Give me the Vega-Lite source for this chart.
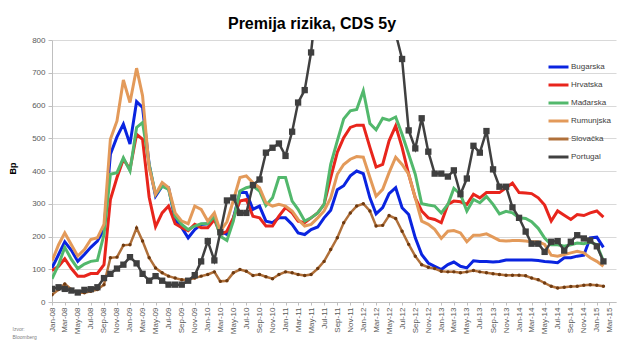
{
  "$schema": "https://vega.github.io/schema/vega-lite/v6.json",
  "width": 564,
  "height": 262,
  "autosize": {"type": "none"},
  "padding": {"left": 52, "top": 40, "right": 9, "bottom": 48},
  "background": "white",
  "config": {
    "font": "Liberation Sans",
    "view": {"stroke": null},
    "axis": {"labelFont": "Liberation Sans", "titleFont": "Liberation Sans"}
  },
  "title": {
    "text": "Premija rizika, CDS 5y",
    "fontSize": 16,
    "font": "Liberation Sans",
    "fontWeight": "bold",
    "color": "#000000",
    "anchor": "middle",
    "dx": -22,
    "offset": 4
  },
  "data": {
    "values": [
      {"m":"2008-01","c":"Bugarska","v":104},{"m":"2008-02","c":"Bugarska","v":145},{"m":"2008-03","c":"Bugarska","v":184},{"m":"2008-04","c":"Bugarska","v":158},{"m":"2008-05","c":"Bugarska","v":124},{"m":"2008-06","c":"Bugarska","v":145},{"m":"2008-07","c":"Bugarska","v":167},{"m":"2008-08","c":"Bugarska","v":186},{"m":"2008-09","c":"Bugarska","v":221},{"m":"2008-10","c":"Bugarska","v":451},{"m":"2008-11","c":"Bugarska","v":504},{"m":"2008-12","c":"Bugarska","v":543},
      {"m":"2009-01","c":"Bugarska","v":482},{"m":"2009-02","c":"Bugarska","v":612},{"m":"2009-03","c":"Bugarska","v":594},{"m":"2009-04","c":"Bugarska","v":420},{"m":"2009-05","c":"Bugarska","v":323},{"m":"2009-06","c":"Bugarska","v":354},{"m":"2009-07","c":"Bugarska","v":349},{"m":"2009-08","c":"Bugarska","v":252},{"m":"2009-09","c":"Bugarska","v":227},{"m":"2009-10","c":"Bugarska","v":196},{"m":"2009-11","c":"Bugarska","v":221},{"m":"2009-12","c":"Bugarska","v":237},
      {"m":"2010-01","c":"Bugarska","v":239},{"m":"2010-02","c":"Bugarska","v":255},{"m":"2010-03","c":"Bugarska","v":216},{"m":"2010-04","c":"Bugarska","v":206},{"m":"2010-05","c":"Bugarska","v":255},{"m":"2010-06","c":"Bugarska","v":334},{"m":"2010-07","c":"Bugarska","v":334},{"m":"2010-08","c":"Bugarska","v":283},{"m":"2010-09","c":"Bugarska","v":293},{"m":"2010-10","c":"Bugarska","v":247},{"m":"2010-11","c":"Bugarska","v":242},{"m":"2010-12","c":"Bugarska","v":257},
      {"m":"2011-01","c":"Bugarska","v":257},{"m":"2011-02","c":"Bugarska","v":237},{"m":"2011-03","c":"Bugarska","v":211},{"m":"2011-04","c":"Bugarska","v":206},{"m":"2011-05","c":"Bugarska","v":221},{"m":"2011-06","c":"Bugarska","v":229},{"m":"2011-07","c":"Bugarska","v":257},{"m":"2011-08","c":"Bugarska","v":280},{"m":"2011-09","c":"Bugarska","v":343},{"m":"2011-10","c":"Bugarska","v":355},{"m":"2011-11","c":"Bugarska","v":385},{"m":"2011-12","c":"Bugarska","v":400},
      {"m":"2012-01","c":"Bugarska","v":392},{"m":"2012-02","c":"Bugarska","v":318},{"m":"2012-03","c":"Bugarska","v":269},{"m":"2012-04","c":"Bugarska","v":288},{"m":"2012-05","c":"Bugarska","v":331},{"m":"2012-06","c":"Bugarska","v":349},{"m":"2012-07","c":"Bugarska","v":288},{"m":"2012-08","c":"Bugarska","v":267},{"m":"2012-09","c":"Bugarska","v":196},{"m":"2012-10","c":"Bugarska","v":145},{"m":"2012-11","c":"Bugarska","v":119},{"m":"2012-12","c":"Bugarska","v":109},
      {"m":"2013-01","c":"Bugarska","v":99},{"m":"2013-02","c":"Bugarska","v":114},{"m":"2013-03","c":"Bugarska","v":122},{"m":"2013-04","c":"Bugarska","v":109},{"m":"2013-05","c":"Bugarska","v":104},{"m":"2013-06","c":"Bugarska","v":126},{"m":"2013-07","c":"Bugarska","v":124},{"m":"2013-08","c":"Bugarska","v":124},{"m":"2013-09","c":"Bugarska","v":122},{"m":"2013-10","c":"Bugarska","v":124},{"m":"2013-11","c":"Bugarska","v":128},{"m":"2013-12","c":"Bugarska","v":128},
      {"m":"2014-01","c":"Bugarska","v":128},{"m":"2014-02","c":"Bugarska","v":128},{"m":"2014-03","c":"Bugarska","v":128},{"m":"2014-04","c":"Bugarska","v":127},{"m":"2014-05","c":"Bugarska","v":124},{"m":"2014-06","c":"Bugarska","v":122},{"m":"2014-07","c":"Bugarska","v":120},{"m":"2014-08","c":"Bugarska","v":135},{"m":"2014-09","c":"Bugarska","v":135},{"m":"2014-10","c":"Bugarska","v":140},{"m":"2014-11","c":"Bugarska","v":143},{"m":"2014-12","c":"Bugarska","v":196},
      {"m":"2015-01","c":"Bugarska","v":198},{"m":"2015-02","c":"Bugarska","v":167},

      {"m":"2008-01","c":"Hrvatska","v":96},{"m":"2008-02","c":"Hrvatska","v":109},{"m":"2008-03","c":"Hrvatska","v":132},{"m":"2008-04","c":"Hrvatska","v":102},{"m":"2008-05","c":"Hrvatska","v":79},{"m":"2008-06","c":"Hrvatska","v":79},{"m":"2008-07","c":"Hrvatska","v":87},{"m":"2008-08","c":"Hrvatska","v":87},{"m":"2008-09","c":"Hrvatska","v":114},{"m":"2008-10","c":"Hrvatska","v":313},{"m":"2008-11","c":"Hrvatska","v":380},{"m":"2008-12","c":"Hrvatska","v":436},
      {"m":"2009-01","c":"Hrvatska","v":405},{"m":"2009-02","c":"Hrvatska","v":512},{"m":"2009-03","c":"Hrvatska","v":497},{"m":"2009-04","c":"Hrvatska","v":320},{"m":"2009-05","c":"Hrvatska","v":230},{"m":"2009-06","c":"Hrvatska","v":272},{"m":"2009-07","c":"Hrvatska","v":293},{"m":"2009-08","c":"Hrvatska","v":239},{"m":"2009-09","c":"Hrvatska","v":227},{"m":"2009-10","c":"Hrvatska","v":218},{"m":"2009-11","c":"Hrvatska","v":237},{"m":"2009-12","c":"Hrvatska","v":227},
      {"m":"2010-01","c":"Hrvatska","v":227},{"m":"2010-02","c":"Hrvatska","v":252},{"m":"2010-03","c":"Hrvatska","v":206},{"m":"2010-04","c":"Hrvatska","v":216},{"m":"2010-05","c":"Hrvatska","v":257},{"m":"2010-06","c":"Hrvatska","v":308},{"m":"2010-07","c":"Hrvatska","v":313},{"m":"2010-08","c":"Hrvatska","v":262},{"m":"2010-09","c":"Hrvatska","v":257},{"m":"2010-10","c":"Hrvatska","v":232},{"m":"2010-11","c":"Hrvatska","v":232},{"m":"2010-12","c":"Hrvatska","v":262},
      {"m":"2011-01","c":"Hrvatska","v":288},{"m":"2011-02","c":"Hrvatska","v":272},{"m":"2011-03","c":"Hrvatska","v":247},{"m":"2011-04","c":"Hrvatska","v":242},{"m":"2011-05","c":"Hrvatska","v":257},{"m":"2011-06","c":"Hrvatska","v":272},{"m":"2011-07","c":"Hrvatska","v":298},{"m":"2011-08","c":"Hrvatska","v":380},{"m":"2011-09","c":"Hrvatska","v":457},{"m":"2011-10","c":"Hrvatska","v":502},{"m":"2011-11","c":"Hrvatska","v":533},{"m":"2011-12","c":"Hrvatska","v":540},
      {"m":"2012-01","c":"Hrvatska","v":540},{"m":"2012-02","c":"Hrvatska","v":472},{"m":"2012-03","c":"Hrvatska","v":412},{"m":"2012-04","c":"Hrvatska","v":420},{"m":"2012-05","c":"Hrvatska","v":492},{"m":"2012-06","c":"Hrvatska","v":538},{"m":"2012-07","c":"Hrvatska","v":472},{"m":"2012-08","c":"Hrvatska","v":390},{"m":"2012-09","c":"Hrvatska","v":318},{"m":"2012-10","c":"Hrvatska","v":278},{"m":"2012-11","c":"Hrvatska","v":257},{"m":"2012-12","c":"Hrvatska","v":252},
      {"m":"2013-01","c":"Hrvatska","v":242},{"m":"2013-02","c":"Hrvatska","v":298},{"m":"2013-03","c":"Hrvatska","v":308},{"m":"2013-04","c":"Hrvatska","v":306},{"m":"2013-05","c":"Hrvatska","v":298},{"m":"2013-06","c":"Hrvatska","v":329},{"m":"2013-07","c":"Hrvatska","v":318},{"m":"2013-08","c":"Hrvatska","v":334},{"m":"2013-09","c":"Hrvatska","v":334},{"m":"2013-10","c":"Hrvatska","v":334},{"m":"2013-11","c":"Hrvatska","v":349},{"m":"2013-12","c":"Hrvatska","v":363},
      {"m":"2014-01","c":"Hrvatska","v":334},{"m":"2014-02","c":"Hrvatska","v":333},{"m":"2014-03","c":"Hrvatska","v":331},{"m":"2014-04","c":"Hrvatska","v":318},{"m":"2014-05","c":"Hrvatska","v":296},{"m":"2014-06","c":"Hrvatska","v":247},{"m":"2014-07","c":"Hrvatska","v":278},{"m":"2014-08","c":"Hrvatska","v":265},{"m":"2014-09","c":"Hrvatska","v":252},{"m":"2014-10","c":"Hrvatska","v":267},{"m":"2014-11","c":"Hrvatska","v":264},{"m":"2014-12","c":"Hrvatska","v":272},
      {"m":"2015-01","c":"Hrvatska","v":278},{"m":"2015-02","c":"Hrvatska","v":259},

      {"m":"2008-01","c":"Mađarska","v":71},{"m":"2008-02","c":"Mađarska","v":114},{"m":"2008-03","c":"Mađarska","v":167},{"m":"2008-04","c":"Mađarska","v":130},{"m":"2008-05","c":"Mađarska","v":102},{"m":"2008-06","c":"Mađarska","v":116},{"m":"2008-07","c":"Mađarska","v":124},{"m":"2008-08","c":"Mađarska","v":127},{"m":"2008-09","c":"Mađarska","v":206},{"m":"2008-10","c":"Mađarska","v":390},{"m":"2008-11","c":"Mađarska","v":395},{"m":"2008-12","c":"Mađarska","v":440},
      {"m":"2009-01","c":"Mađarska","v":400},{"m":"2009-02","c":"Mađarska","v":533},{"m":"2009-03","c":"Mađarska","v":548},{"m":"2009-04","c":"Mađarska","v":420},{"m":"2009-05","c":"Mađarska","v":329},{"m":"2009-06","c":"Mađarska","v":354},{"m":"2009-07","c":"Mađarska","v":344},{"m":"2009-08","c":"Mađarska","v":262},{"m":"2009-09","c":"Mađarska","v":237},{"m":"2009-10","c":"Mađarska","v":221},{"m":"2009-11","c":"Mađarska","v":232},{"m":"2009-12","c":"Mađarska","v":239},
      {"m":"2010-01","c":"Mađarska","v":239},{"m":"2010-02","c":"Mađarska","v":262},{"m":"2010-03","c":"Mađarska","v":201},{"m":"2010-04","c":"Mađarska","v":188},{"m":"2010-05","c":"Mađarska","v":247},{"m":"2010-06","c":"Mađarska","v":339},{"m":"2010-07","c":"Mađarska","v":349},{"m":"2010-08","c":"Mađarska","v":354},{"m":"2010-09","c":"Mađarska","v":339},{"m":"2010-10","c":"Mađarska","v":295},{"m":"2010-11","c":"Mađarska","v":318},{"m":"2010-12","c":"Mađarska","v":380},
      {"m":"2011-01","c":"Mađarska","v":380},{"m":"2011-02","c":"Mađarska","v":308},{"m":"2011-03","c":"Mađarska","v":283},{"m":"2011-04","c":"Mađarska","v":247},{"m":"2011-05","c":"Mađarska","v":257},{"m":"2011-06","c":"Mađarska","v":272},{"m":"2011-07","c":"Mađarska","v":298},{"m":"2011-08","c":"Mađarska","v":420},{"m":"2011-09","c":"Mađarska","v":492},{"m":"2011-10","c":"Mađarska","v":559},{"m":"2011-11","c":"Mađarska","v":584},{"m":"2011-12","c":"Mađarska","v":588},
      {"m":"2012-01","c":"Mađarska","v":645},{"m":"2012-02","c":"Mađarska","v":545},{"m":"2012-03","c":"Mađarska","v":526},{"m":"2012-04","c":"Mađarska","v":561},{"m":"2012-05","c":"Mađarska","v":555},{"m":"2012-06","c":"Mađarska","v":565},{"m":"2012-07","c":"Mađarska","v":512},{"m":"2012-08","c":"Mađarska","v":451},{"m":"2012-09","c":"Mađarska","v":390},{"m":"2012-10","c":"Mađarska","v":300},{"m":"2012-11","c":"Mađarska","v":296},{"m":"2012-12","c":"Mađarska","v":293},
      {"m":"2013-01","c":"Mađarska","v":272},{"m":"2013-02","c":"Mađarska","v":298},{"m":"2013-03","c":"Mađarska","v":347},{"m":"2013-04","c":"Mađarska","v":329},{"m":"2013-05","c":"Mađarska","v":278},{"m":"2013-06","c":"Mađarska","v":313},{"m":"2013-07","c":"Mađarska","v":303},{"m":"2013-08","c":"Mađarska","v":322},{"m":"2013-09","c":"Mađarska","v":298},{"m":"2013-10","c":"Mađarska","v":269},{"m":"2013-11","c":"Mađarska","v":277},{"m":"2013-12","c":"Mađarska","v":272},
      {"m":"2014-01","c":"Mađarska","v":257},{"m":"2014-02","c":"Mađarska","v":255},{"m":"2014-03","c":"Mađarska","v":245},{"m":"2014-04","c":"Mađarska","v":225},{"m":"2014-05","c":"Mađarska","v":195},{"m":"2014-06","c":"Mađarska","v":175},{"m":"2014-07","c":"Mađarska","v":175},{"m":"2014-08","c":"Mađarska","v":170},{"m":"2014-09","c":"Mađarska","v":175},{"m":"2014-10","c":"Mađarska","v":180},{"m":"2014-11","c":"Mađarska","v":178},{"m":"2014-12","c":"Mađarska","v":183},
      {"m":"2015-01","c":"Mađarska","v":175},{"m":"2015-02","c":"Mađarska","v":125},

      {"m":"2008-01","c":"Rumunjska","v":125},{"m":"2008-02","c":"Rumunjska","v":175},{"m":"2008-03","c":"Rumunjska","v":211},{"m":"2008-04","c":"Rumunjska","v":175},{"m":"2008-05","c":"Rumunjska","v":140},{"m":"2008-06","c":"Rumunjska","v":160},{"m":"2008-07","c":"Rumunjska","v":191},{"m":"2008-08","c":"Rumunjska","v":196},{"m":"2008-09","c":"Rumunjska","v":237},{"m":"2008-10","c":"Rumunjska","v":497},{"m":"2008-11","c":"Rumunjska","v":553},{"m":"2008-12","c":"Rumunjska","v":678},
      {"m":"2009-01","c":"Rumunjska","v":609},{"m":"2009-02","c":"Rumunjska","v":714},{"m":"2009-03","c":"Rumunjska","v":630},{"m":"2009-04","c":"Rumunjska","v":410},{"m":"2009-05","c":"Rumunjska","v":329},{"m":"2009-06","c":"Rumunjska","v":365},{"m":"2009-07","c":"Rumunjska","v":349},{"m":"2009-08","c":"Rumunjska","v":272},{"m":"2009-09","c":"Rumunjska","v":247},{"m":"2009-10","c":"Rumunjska","v":239},{"m":"2009-11","c":"Rumunjska","v":293},{"m":"2009-12","c":"Rumunjska","v":283},
      {"m":"2010-01","c":"Rumunjska","v":247},{"m":"2010-02","c":"Rumunjska","v":272},{"m":"2010-03","c":"Rumunjska","v":216},{"m":"2010-04","c":"Rumunjska","v":245},{"m":"2010-05","c":"Rumunjska","v":310},{"m":"2010-06","c":"Rumunjska","v":380},{"m":"2010-07","c":"Rumunjska","v":385},{"m":"2010-08","c":"Rumunjska","v":364},{"m":"2010-09","c":"Rumunjska","v":349},{"m":"2010-10","c":"Rumunjska","v":303},{"m":"2010-11","c":"Rumunjska","v":293},{"m":"2010-12","c":"Rumunjska","v":298},
      {"m":"2011-01","c":"Rumunjska","v":293},{"m":"2011-02","c":"Rumunjska","v":278},{"m":"2011-03","c":"Rumunjska","v":252},{"m":"2011-04","c":"Rumunjska","v":232},{"m":"2011-05","c":"Rumunjska","v":237},{"m":"2011-06","c":"Rumunjska","v":257},{"m":"2011-07","c":"Rumunjska","v":278},{"m":"2011-08","c":"Rumunjska","v":318},{"m":"2011-09","c":"Rumunjska","v":390},{"m":"2011-10","c":"Rumunjska","v":420},{"m":"2011-11","c":"Rumunjska","v":436},{"m":"2011-12","c":"Rumunjska","v":444},
      {"m":"2012-01","c":"Rumunjska","v":442},{"m":"2012-02","c":"Rumunjska","v":380},{"m":"2012-03","c":"Rumunjska","v":323},{"m":"2012-04","c":"Rumunjska","v":344},{"m":"2012-05","c":"Rumunjska","v":395},{"m":"2012-06","c":"Rumunjska","v":442},{"m":"2012-07","c":"Rumunjska","v":420},{"m":"2012-08","c":"Rumunjska","v":390},{"m":"2012-09","c":"Rumunjska","v":318},{"m":"2012-10","c":"Rumunjska","v":247},{"m":"2012-11","c":"Rumunjska","v":237},{"m":"2012-12","c":"Rumunjska","v":222},
      {"m":"2013-01","c":"Rumunjska","v":194},{"m":"2013-02","c":"Rumunjska","v":216},{"m":"2013-03","c":"Rumunjska","v":218},{"m":"2013-04","c":"Rumunjska","v":211},{"m":"2013-05","c":"Rumunjska","v":184},{"m":"2013-06","c":"Rumunjska","v":204},{"m":"2013-07","c":"Rumunjska","v":204},{"m":"2013-08","c":"Rumunjska","v":208},{"m":"2013-09","c":"Rumunjska","v":198},{"m":"2013-10","c":"Rumunjska","v":188},{"m":"2013-11","c":"Rumunjska","v":186},{"m":"2013-12","c":"Rumunjska","v":188},
      {"m":"2014-01","c":"Rumunjska","v":188},{"m":"2014-02","c":"Rumunjska","v":186},{"m":"2014-03","c":"Rumunjska","v":184},{"m":"2014-04","c":"Rumunjska","v":184},{"m":"2014-05","c":"Rumunjska","v":176},{"m":"2014-06","c":"Rumunjska","v":143},{"m":"2014-07","c":"Rumunjska","v":140},{"m":"2014-08","c":"Rumunjska","v":145},{"m":"2014-09","c":"Rumunjska","v":150},{"m":"2014-10","c":"Rumunjska","v":155},{"m":"2014-11","c":"Rumunjska","v":150},{"m":"2014-12","c":"Rumunjska","v":135},
      {"m":"2015-01","c":"Rumunjska","v":124},{"m":"2015-02","c":"Rumunjska","v":109},

      {"m":"2008-01","c":"Slovačka","v":22},{"m":"2008-02","c":"Slovačka","v":38},{"m":"2008-03","c":"Slovačka","v":55},{"m":"2008-04","c":"Slovačka","v":38},{"m":"2008-05","c":"Slovačka","v":28},{"m":"2008-06","c":"Slovačka","v":28},{"m":"2008-07","c":"Slovačka","v":33},{"m":"2008-08","c":"Slovačka","v":38},{"m":"2008-09","c":"Slovačka","v":53},{"m":"2008-10","c":"Slovačka","v":135},{"m":"2008-11","c":"Slovačka","v":137},{"m":"2008-12","c":"Slovačka","v":173},
      {"m":"2009-01","c":"Slovačka","v":175},{"m":"2009-02","c":"Slovačka","v":226},{"m":"2009-03","c":"Slovačka","v":186},{"m":"2009-04","c":"Slovačka","v":135},{"m":"2009-05","c":"Slovačka","v":104},{"m":"2009-06","c":"Slovačka","v":89},{"m":"2009-07","c":"Slovačka","v":79},{"m":"2009-08","c":"Slovačka","v":73},{"m":"2009-09","c":"Slovačka","v":68},{"m":"2009-10","c":"Slovačka","v":68},{"m":"2009-11","c":"Slovačka","v":73},{"m":"2009-12","c":"Slovačka","v":79},
      {"m":"2010-01","c":"Slovačka","v":84},{"m":"2010-02","c":"Slovačka","v":92},{"m":"2010-03","c":"Slovačka","v":63},{"m":"2010-04","c":"Slovačka","v":65},{"m":"2010-05","c":"Slovačka","v":89},{"m":"2010-06","c":"Slovačka","v":99},{"m":"2010-07","c":"Slovačka","v":94},{"m":"2010-08","c":"Slovačka","v":81},{"m":"2010-09","c":"Slovačka","v":84},{"m":"2010-10","c":"Slovačka","v":77},{"m":"2010-11","c":"Slovačka","v":71},{"m":"2010-12","c":"Slovačka","v":84},
      {"m":"2011-01","c":"Slovačka","v":92},{"m":"2011-02","c":"Slovačka","v":89},{"m":"2011-03","c":"Slovačka","v":84},{"m":"2011-04","c":"Slovačka","v":81},{"m":"2011-05","c":"Slovačka","v":84},{"m":"2011-06","c":"Slovačka","v":102},{"m":"2011-07","c":"Slovačka","v":124},{"m":"2011-08","c":"Slovačka","v":160},{"m":"2011-09","c":"Slovačka","v":196},{"m":"2011-10","c":"Slovačka","v":242},{"m":"2011-11","c":"Slovačka","v":272},{"m":"2011-12","c":"Slovačka","v":293},
      {"m":"2012-01","c":"Slovačka","v":300},{"m":"2012-02","c":"Slovačka","v":278},{"m":"2012-03","c":"Slovačka","v":232},{"m":"2012-04","c":"Slovačka","v":234},{"m":"2012-05","c":"Slovačka","v":264},{"m":"2012-06","c":"Slovačka","v":255},{"m":"2012-07","c":"Slovačka","v":216},{"m":"2012-08","c":"Slovačka","v":176},{"m":"2012-09","c":"Slovačka","v":140},{"m":"2012-10","c":"Slovačka","v":114},{"m":"2012-11","c":"Slovačka","v":106},{"m":"2012-12","c":"Slovačka","v":102},
      {"m":"2013-01","c":"Slovačka","v":94},{"m":"2013-02","c":"Slovačka","v":92},{"m":"2013-03","c":"Slovačka","v":92},{"m":"2013-04","c":"Slovačka","v":89},{"m":"2013-05","c":"Slovačka","v":92},{"m":"2013-06","c":"Slovačka","v":96},{"m":"2013-07","c":"Slovačka","v":92},{"m":"2013-08","c":"Slovačka","v":89},{"m":"2013-09","c":"Slovačka","v":86},{"m":"2013-10","c":"Slovačka","v":84},{"m":"2013-11","c":"Slovačka","v":82},{"m":"2013-12","c":"Slovačka","v":82},
      {"m":"2014-01","c":"Slovačka","v":82},{"m":"2014-02","c":"Slovačka","v":80},{"m":"2014-03","c":"Slovačka","v":73},{"m":"2014-04","c":"Slovačka","v":68},{"m":"2014-05","c":"Slovačka","v":58},{"m":"2014-06","c":"Slovačka","v":48},{"m":"2014-07","c":"Slovačka","v":43},{"m":"2014-08","c":"Slovačka","v":45},{"m":"2014-09","c":"Slovačka","v":47},{"m":"2014-10","c":"Slovačka","v":48},{"m":"2014-11","c":"Slovačka","v":51},{"m":"2014-12","c":"Slovačka","v":53},
      {"m":"2015-01","c":"Slovačka","v":51},{"m":"2015-02","c":"Slovačka","v":48},

      {"m":"2008-01","c":"Portugal","v":40},{"m":"2008-02","c":"Portugal","v":45},{"m":"2008-03","c":"Portugal","v":40},{"m":"2008-04","c":"Portugal","v":35},{"m":"2008-05","c":"Portugal","v":29},{"m":"2008-06","c":"Portugal","v":37},{"m":"2008-07","c":"Portugal","v":39},{"m":"2008-08","c":"Portugal","v":45},{"m":"2008-09","c":"Portugal","v":73},{"m":"2008-10","c":"Portugal","v":86},{"m":"2008-11","c":"Portugal","v":102},{"m":"2008-12","c":"Portugal","v":114},
      {"m":"2009-01","c":"Portugal","v":137},{"m":"2009-02","c":"Portugal","v":118},{"m":"2009-03","c":"Portugal","v":86},{"m":"2009-04","c":"Portugal","v":65},{"m":"2009-05","c":"Portugal","v":79},{"m":"2009-06","c":"Portugal","v":65},{"m":"2009-07","c":"Portugal","v":53},{"m":"2009-08","c":"Portugal","v":53},{"m":"2009-09","c":"Portugal","v":53},{"m":"2009-10","c":"Portugal","v":65},{"m":"2009-11","c":"Portugal","v":82},{"m":"2009-12","c":"Portugal","v":124},
      {"m":"2010-01","c":"Portugal","v":186},{"m":"2010-02","c":"Portugal","v":127},{"m":"2010-03","c":"Portugal","v":213},{"m":"2010-04","c":"Portugal","v":310},{"m":"2010-05","c":"Portugal","v":319},{"m":"2010-06","c":"Portugal","v":272},{"m":"2010-07","c":"Portugal","v":272},{"m":"2010-08","c":"Portugal","v":357},{"m":"2010-09","c":"Portugal","v":374},{"m":"2010-10","c":"Portugal","v":456},{"m":"2010-11","c":"Portugal","v":471},{"m":"2010-12","c":"Portugal","v":484},
      {"m":"2011-01","c":"Portugal","v":446},{"m":"2011-02","c":"Portugal","v":520},{"m":"2011-03","c":"Portugal","v":609},{"m":"2011-04","c":"Portugal","v":647},{"m":"2011-05","c":"Portugal","v":762},{"m":"2011-06","c":"Portugal","v":950},{"m":"2011-07","c":"Portugal","v":1100},{"m":"2011-08","c":"Portugal","v":1050},{"m":"2011-09","c":"Portugal","v":1150},{"m":"2011-10","c":"Portugal","v":1100},{"m":"2011-11","c":"Portugal","v":1200},{"m":"2011-12","c":"Portugal","v":1250},
      {"m":"2012-01","c":"Portugal","v":1450},{"m":"2012-02","c":"Portugal","v":1300},{"m":"2012-03","c":"Portugal","v":1150},{"m":"2012-04","c":"Portugal","v":1100},{"m":"2012-05","c":"Portugal","v":1000},{"m":"2012-06","c":"Portugal","v":820},{"m":"2012-07","c":"Portugal","v":742},{"m":"2012-08","c":"Portugal","v":524},{"m":"2012-09","c":"Portugal","v":469},{"m":"2012-10","c":"Portugal","v":561},{"m":"2012-11","c":"Portugal","v":459},{"m":"2012-12","c":"Portugal","v":392},
      {"m":"2013-01","c":"Portugal","v":392},{"m":"2013-02","c":"Portugal","v":383},{"m":"2013-03","c":"Portugal","v":402},{"m":"2013-04","c":"Portugal","v":329},{"m":"2013-05","c":"Portugal","v":377},{"m":"2013-06","c":"Portugal","v":477},{"m":"2013-07","c":"Portugal","v":456},{"m":"2013-08","c":"Portugal","v":522},{"m":"2013-09","c":"Portugal","v":405},{"m":"2013-10","c":"Portugal","v":352},{"m":"2013-11","c":"Portugal","v":352},{"m":"2013-12","c":"Portugal","v":289},
      {"m":"2014-01","c":"Portugal","v":257},{"m":"2014-02","c":"Portugal","v":215},{"m":"2014-03","c":"Portugal","v":178},{"m":"2014-04","c":"Portugal","v":178},{"m":"2014-05","c":"Portugal","v":153},{"m":"2014-06","c":"Portugal","v":184},{"m":"2014-07","c":"Portugal","v":186},{"m":"2014-08","c":"Portugal","v":157},{"m":"2014-09","c":"Portugal","v":184},{"m":"2014-10","c":"Portugal","v":204},{"m":"2014-11","c":"Portugal","v":194},{"m":"2014-12","c":"Portugal","v":188},
      {"m":"2015-01","c":"Portugal","v":170},{"m":"2015-02","c":"Portugal","v":124}
    ]
  },
  "encoding": {
    "x": {
      "field": "m",
      "type": "temporal",
      "scale": {"type": "utc", "domain": ["2008-01-01", "2015-04-01"]},
      "axis": {
        "labelExpr": "utcFormat(datum.value, '%b-%y')",
        "tickCount": {"interval": "month", "step": 2},
        "labelAngle": -90,
        "labelFontSize": 8,
        "labelColor": "#595959",
        "labelPadding": 2,
        "labelOverlap": false,
        "labelFlush": false,
        "grid": false,
        "domainColor": "#bfbfbf",
        "tickColor": "#bfbfbf",
        "tickSize": 3,
        "title": ["Izvor:", "Bloomberg"],
        "titleFontSize": 5,
        "titleFontWeight": "normal",
        "titleColor": "#7f7f7f",
        "titleX": -40,
        "titleY": 24,
        "titleAlign": "left",
        "titleBaseline": "top",
        "titleLineHeight": 8
      }
    },
    "y": {
      "field": "v",
      "type": "quantitative",
      "scale": {"domain": [0, 800], "nice": false, "zero": true},
      "axis": {
        "values": [0, 100, 200, 300, 400, 500, 600, 700, 800],
        "labelFontSize": 8,
        "labelColor": "#595959",
        "labelPadding": 3,
        "gridColor": "#d9d9d9",
        "domainColor": "#bfbfbf",
        "tickColor": "#bfbfbf",
        "tickSize": 4,
        "title": "Bp",
        "titleFontSize": 9,
        "titleFontWeight": "bold",
        "titleColor": "#000000",
        "titleX": -40,
        "titleY": 128,
        "titleAlign": "center",
        "titleBaseline": "middle"
      }
    }
  },
  "layer": [
    {
      "transform": [{"filter": {"field": "c", "oneOf": ["Bugarska", "Hrvatska", "Mađarska", "Rumunjska"]}}],
      "mark": {"type": "line", "strokeWidth": 3, "clip": true},
      "encoding": {
        "color": {
          "field": "c",
          "type": "nominal",
          "scale": {
            "domain": ["Bugarska", "Hrvatska", "Mađarska", "Rumunjska", "Slovačka", "Portugal"],
            "range": ["#0a24e0", "#e8251c", "#52b86c", "#e39a5a", "#b0703a", "#404040"]
          },
          "legend": {
            "title": null,
            "orient": "none",
            "legendX": 495,
            "legendY": 20,
            "symbolType": "stroke",
            "symbolStrokeWidth": 3,
            "symbolSize": 400,
            "labelFontSize": 8,
            "labelColor": "#404040",
            "labelOffset": 1,
            "rowPadding": 4,
            "clipHeight": 14
          }
        }
      }
    },
    {
      "transform": [{"filter": {"field": "c", "equal": "Slovačka"}}],
      "mark": {"type": "line", "strokeWidth": 2.5, "clip": true},
      "encoding": {"color": {"field": "c", "type": "nominal"}}
    },
    {
      "transform": [{"filter": {"field": "c", "equal": "Slovačka"}}],
      "mark": {"type": "point", "shape": "circle", "filled": true, "size": 12, "opacity": 1, "color": "#6e3a10", "clip": true}
    },
    {
      "transform": [{"filter": {"field": "c", "equal": "Portugal"}}],
      "mark": {"type": "line", "strokeWidth": 2.5, "clip": true},
      "encoding": {"color": {"field": "c", "type": "nominal"}}
    },
    {
      "transform": [{"filter": {"field": "c", "equal": "Portugal"}}],
      "mark": {"type": "point", "shape": "square", "filled": true, "size": 40, "opacity": 1, "color": "#3f3f3f", "clip": true}
    }
  ]
}
